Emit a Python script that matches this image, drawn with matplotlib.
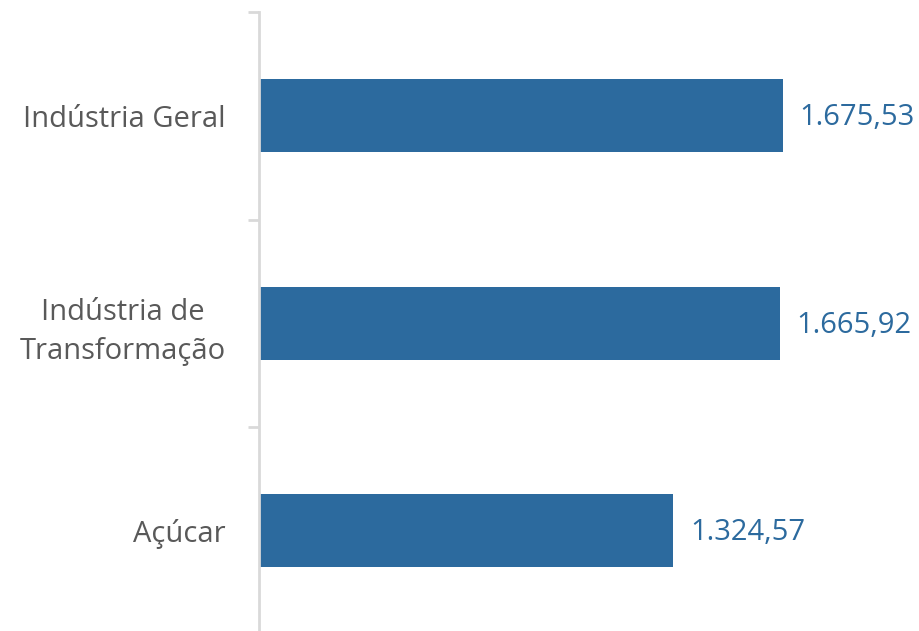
import matplotlib
matplotlib.use("Agg")
import matplotlib.pyplot as plt
from matplotlib.transforms import offset_copy

categories = ["Indústria Geral", "Indústria de\nTransformação", "Açúcar"]
values = [1675.53, 1665.92, 1324.57]
value_labels = ["1.675,53", "1.665,92", "1.324,57"]

bar_color = "#2C6A9E"
text_gray = "#595959"
axis_gray = "#D9D9D9"

fig = plt.figure(figsize=(9.20, 6.31), dpi=100)
ax = fig.add_axes([259/920, (631-634.5)/631, (920-259)/920, (634.5-12)/631])

y = list(range(len(categories)))
ax.barh(y, values, height=0.35, color=bar_color)
ax.set_ylim(len(categories) - 0.5, -0.5)
ax.set_xlim(0, 2115)

for yi, v, lab in zip(y, values, value_labels):
    ax.text(v, yi, lab, transform=offset_copy(ax.transData, fig=fig, x=17, y=-2, units='dots'),
            va='center', ha='left', color=bar_color, fontsize=21, family='Open Sans')

ax.set_yticks([-0.5, 0.5, 1.5, 2.5])
ax.set_yticks(y, minor=True)
ax.set_yticklabels([])
ax.set_yticklabels(categories, minor=True, fontsize=21, family='Open Sans', color=text_gray)
ax.tick_params(axis='y', which='major', length=8, width=2, color=axis_gray)
ax.tick_params(axis='y', which='minor', length=0, pad=24)
for lbl in ax.get_yticklabels(minor=True):
    lbl.set_horizontalalignment('right')
    lbl.set_multialignment('center')
    lbl.set_linespacing(1.45)
ax.xaxis.set_visible(False)
for s in ['top', 'right', 'bottom']:
    ax.spines[s].set_visible(False)
ax.spines['left'].set_color(axis_gray)
ax.spines['left'].set_linewidth(2)

fig.savefig("out.png", dpi=100)
